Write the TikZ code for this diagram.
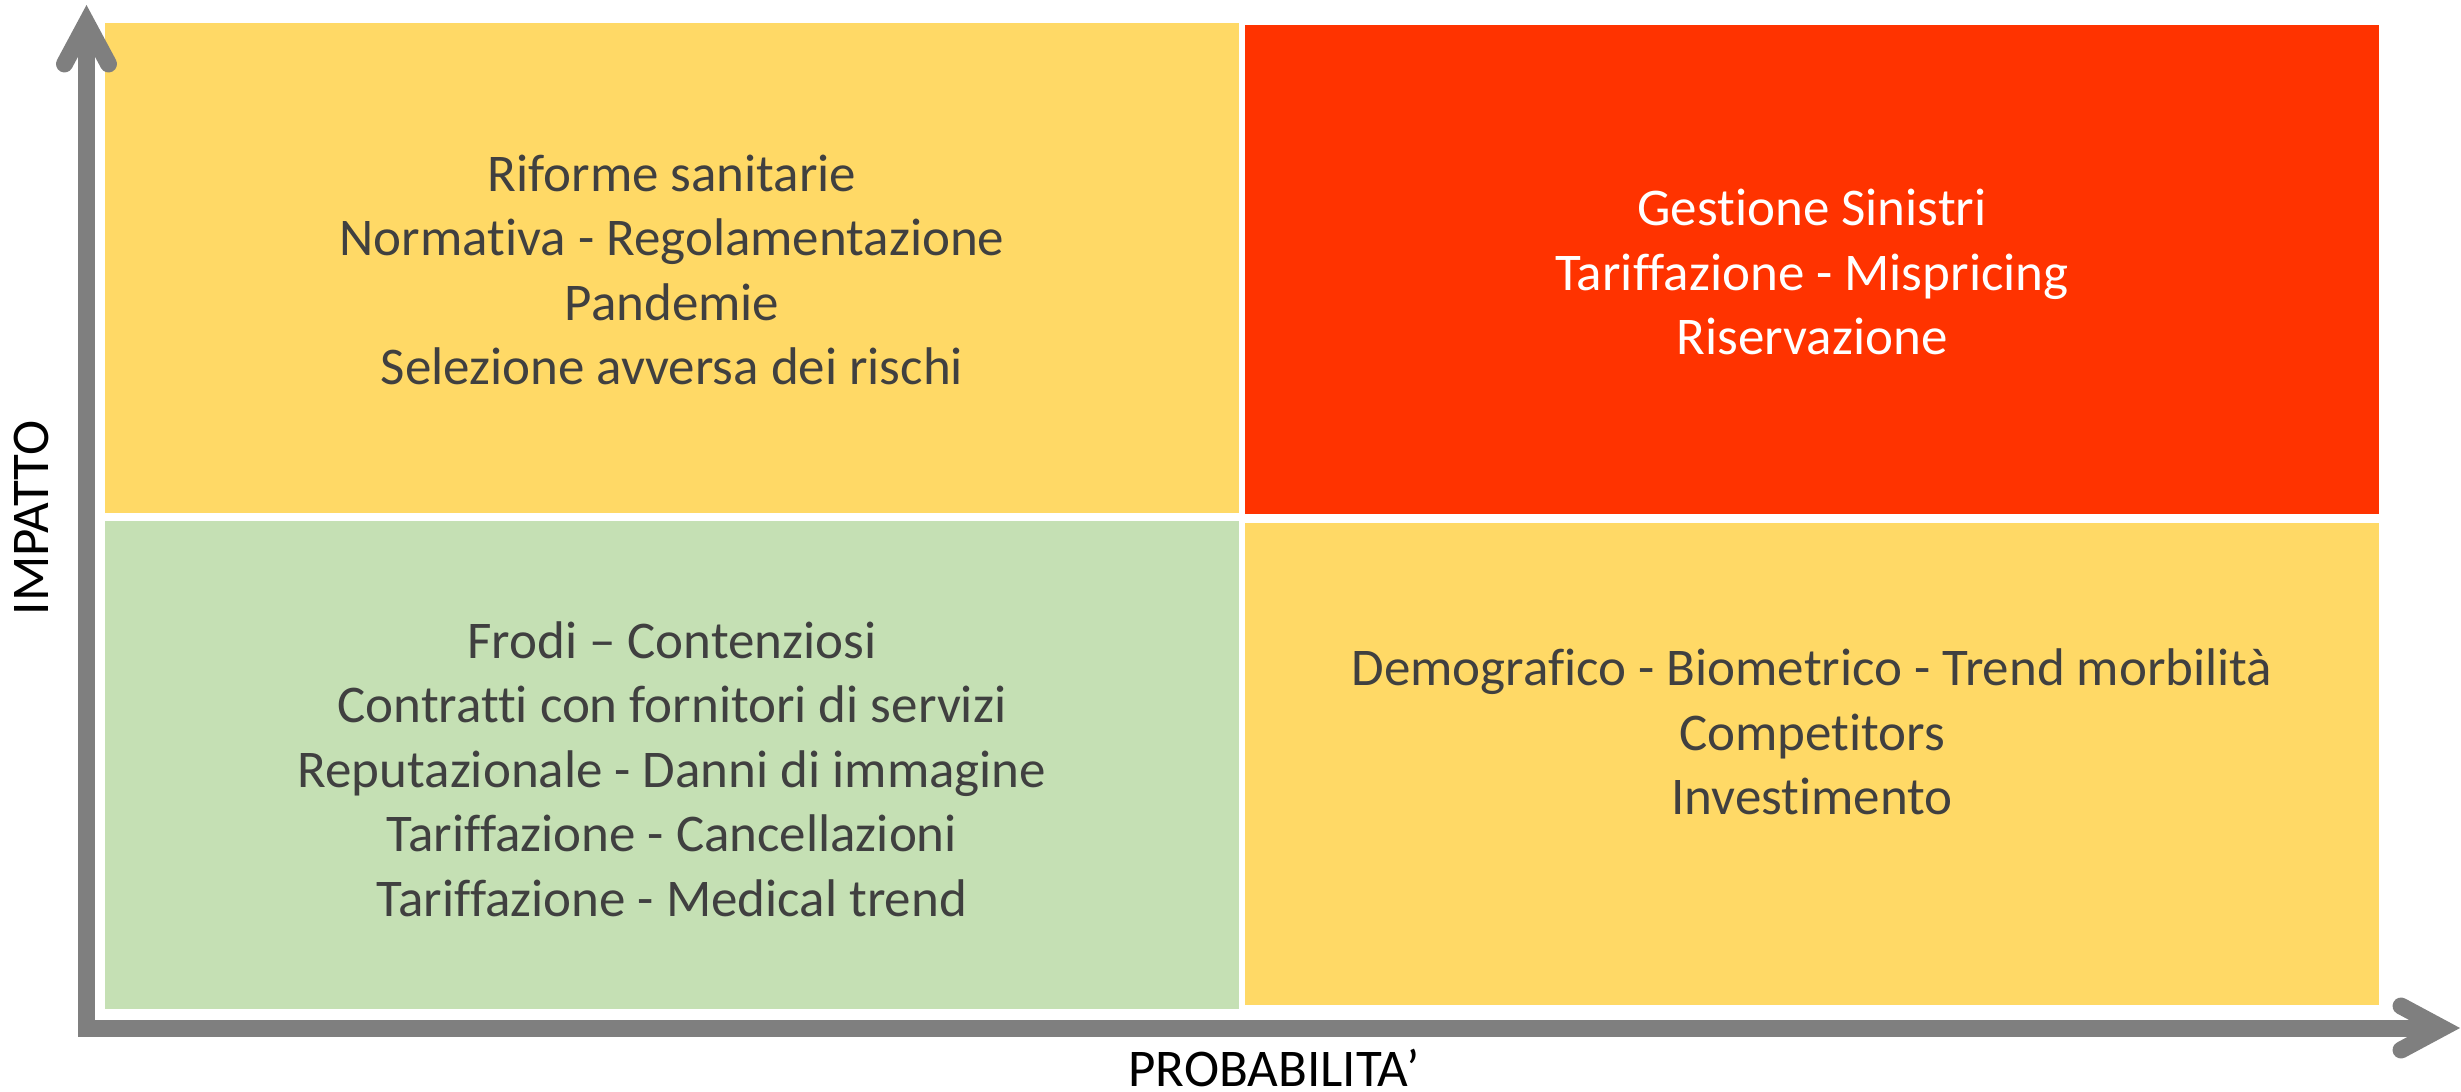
\documentclass[tikz,border=0pt]{standalone}
\usepackage{fontspec}
\setmainfont{Carlito}[RawFeature={-liga;-clig;-dlig}]
\usetikzlibrary{arrows.meta}
\definecolor{qyellow}{HTML}{FFD966}
\definecolor{qred}{HTML}{FF3300}
\definecolor{qgreen}{HTML}{C5E0B4}
\definecolor{qtext}{HTML}{404040}
\definecolor{qaxis}{HTML}{7F7F7F}
\tikzset{
  quad/.style={inner sep=0pt, outer sep=0pt},
  qlabel/.style={align=center, text=qtext, font=\fontsize{53}{64.5}\selectfont, inner sep=0pt},
  axislabel/.style={text=black, font=\fontsize{53}{64}\selectfont, inner sep=0pt},
  axisline/.style={draw=qaxis, line width=17pt, line join=miter,
    arrows={Straight Barb[length=41pt,width=44pt,line cap=round,line join=miter]-Straight Barb[length=41pt,width=44pt,line cap=round,line join=miter]}}
}
\begin{document}
\begin{tikzpicture}[x=1pt,y=-1pt]
\useasboundingbox (0,0) rectangle (2461,1092);
% quadrants
\fill[qyellow] (105,23) rectangle (1239,513);
\fill[qred] (1245,25) rectangle (2379,514);
\fill[qgreen] (105,521) rectangle (1239,1009);
\fill[qyellow] (1245,523) rectangle (2379,1005);
\node[quad] (tl) at (672,268) {};
\node[quad] (tr) at (1812,270) {};
\node[quad] (bl) at (672,765) {};
\node[quad] (br) at (1812,764) {};
% texts
\node[qlabel] (tlt) at (672,270) {Riforme sanitarie\\Normativa - Regolamentazione\\Pandemie\\Selezione avversa dei rischi};
\node[qlabel, text=white] (trt) at (1812,272) {Gestione Sinistri\\Tariffazione - Mispricing\\Riservazione};
\node[qlabel] (blt) at (672,769) {Frodi – Contenziosi\\Contratti con fornitori di servizi\\Reputazionale - Danni di immagine\\Tariffazione - Cancellazioni\\Tariffazione - Medical trend};
\node[qlabel] (brt) at (1812,732) {Demografico - Biometrico - Trend morbilità\\Competitors\\Investimento};
% axes
\coordinate (ytip) at (86.5,5);
\coordinate (origin) at (86.5,1028);
\coordinate (xtip) at (2460,1028);
\draw[axisline] (ytip) -- (origin) -- (xtip);
\node[axislabel, rotate=90] (ylab) at (31,518) {IMPATTO};
\node[axislabel] (xlab) at (1274,1068) {PROBABILITA’};
\end{tikzpicture}
\end{document}
